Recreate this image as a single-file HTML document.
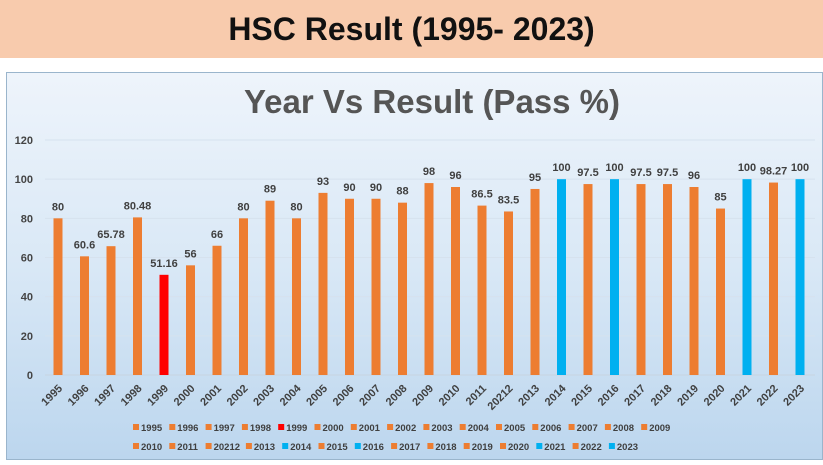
<!DOCTYPE html>
<html><head><meta charset="utf-8"><style>
body{margin:0;width:823px;height:465px;background:#fff;overflow:hidden;font-family:"Liberation Sans",sans-serif}
#band{position:absolute;left:0;top:0;width:823px;height:58px;background:#f8cbad;text-align:center;font-weight:bold;font-size:32px;line-height:58px;color:#111}
#box{position:absolute;left:6px;top:72px;width:817px;height:388px;border:1px solid #9ab5cc;box-sizing:border-box;background:linear-gradient(#eef4fb,#d9e8f6 50%,#bcd6ee)}
svg{position:absolute;left:0;top:0}
</style></head><body>
<div id="band">HSC Result (1995- 2023)</div>
<div id="box"></div>
<svg id="chart" width="823" height="465">
<text x="432" y="113" text-anchor="middle" font-size="33" font-weight="bold" fill="#555">Year Vs  Result (Pass %)</text>
</svg>
<script>
const years=["1995","1996","1997","1998","1999","2000","2001","2002","2003","2004","2005","2006","2007","2008","2009","2010","2011","20212","2013","2014","2015","2016","2017","2018","2019","2020","2021","2022","2023"];
const values=[80,60.6,65.78,80.48,51.16,56,66,80,89,80,93,90,90,88,98,96,86.5,83.5,95,100,97.5,100,97.5,97.5,96,85,100,98.27,100];
const valueLabels=["80","60.6","65.78","80.48","51.16","56","66","80","89","80","93","90","90","88","98","96","86.5","83.5","95","100","97.5","100","97.5","97.5","96","85","100","98.27","100"];
const yTicks=[0,20,40,60,80,100,120];
const NS="http://www.w3.org/2000/svg",svg=document.getElementById('chart');
const y=v=>375-v*(235/120);
const x=i=>58+i*26.5;
const col=i=>values[i]>=100?"#00b0f0":(years[i]==="1999"?"#ff0000":"#ed7d31");
function mk(t,a,txt){const e=document.createElementNS(NS,t);for(const k in a)e.setAttribute(k,a[k]);if(txt!=null)e.textContent=txt;svg.appendChild(e);return e;}
yTicks.forEach(t=>{
 const l=mk('line',{x1:45,x2:815,y1:y(t),y2:y(t),stroke:t===0?'#c8d4e0':'#d6e2ee','stroke-width':1});
 
 
 const tx=mk('text',{x:33,y:y(t)+4,'text-anchor':'end','font-size':11,'font-weight':'bold',fill:'#444'},t);
 
 
});
years.forEach((yr,i)=>{
 const r=mk('rect',{x:x(i)-4.5,y:y(values[i]),width:9,height:y(0)-y(values[i]),fill:col(i)});
 
 
 const v=mk('text',{x:x(i),y:y(values[i])-8,'text-anchor':'middle','font-size':11,'font-weight':'bold',fill:'#404040'},valueLabels[i]);
 
 
 const xl=mk('text',{transform:`translate(${x(i)+5},${389}) rotate(-45)`,'text-anchor':'end','font-size':11,'font-weight':'bold',fill:'#404040'},yr);
 
 
 const row=i<15?0:1, k=i<15?i:i-15;
 const lx=133+k*36.3+(row===1&&k>2?4:0), ly=row?450:431;
 const sw=mk('rect',{x:lx,y:ly-7,width:6,height:6,fill:col(i)});
 
 
 const lt=mk('text',{x:lx+8,y:ly,'font-size':9.5,'font-weight':'bold',fill:'#404040'},yr);
 
 
});
</script>
</body></html>
